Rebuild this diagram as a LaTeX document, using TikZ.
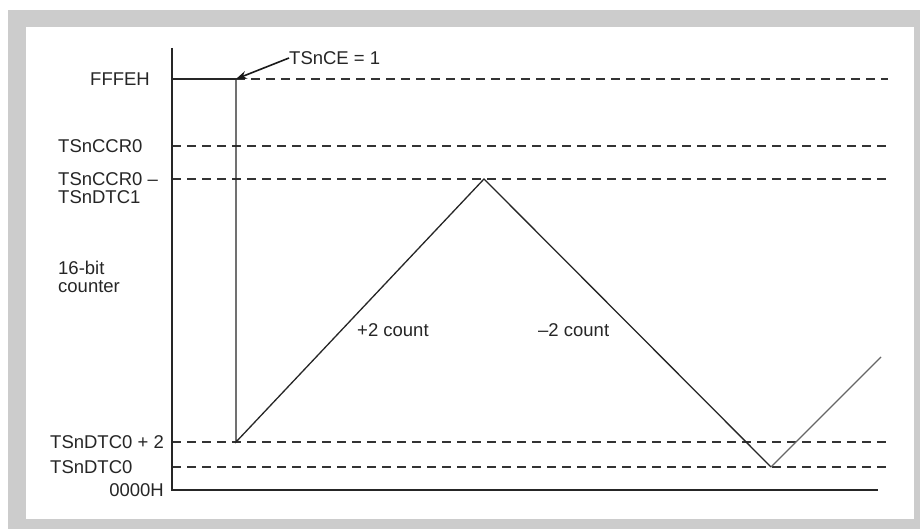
\documentclass[tikz,border=0pt]{standalone}
\usepackage{fontspec}
\setmainfont{Liberation Sans}
\usetikzlibrary{arrows.meta}
\begin{document}
\begin{tikzpicture}[x=1pt,y=-1pt,
  lbl/.style={inner sep=0pt,font=\fontsize{18.5}{20}\selectfont,text=black!85},
  axisline/.style={line width=1.5pt,black!85},
  guide/.style={line width=1.7pt,black!80,dash pattern=on 9pt off 6pt},
  wave/.style={line width=1.3pt,black!85},
  wavelight/.style={line width=1.3pt,black!60}]
\useasboundingbox (0,0) rectangle (920,529);
\fill[black!20] (8,10) rectangle (920,529);
\fill[white] (26,27) rectangle (914,519);
% levels
\coordinate (ytop) at (172,48);
\coordinate (orig) at (172,490);
\coordinate (xend) at (878,490);
% guide lines
\draw[guide] (236,79) -- (888,79);
\draw[guide] (172,146) -- (888,146);
\draw[guide] (172,179) -- (888,179);
\draw[guide] (172,442) -- (888,442);
\draw[guide] (172,467) -- (888,467);
% axes
\draw[axisline] (ytop) -- (orig) -- (xend);
% waveform
\coordinate (w0) at (172,79);
\coordinate (w1) at (236,79);
\coordinate (w2) at (236,442);
\coordinate (w3) at (484,179);
\coordinate (w4) at (771,467);
\coordinate (w5) at (881,357);
\draw[axisline] (w0) -- (w1);
\draw[wave] (w1) -- (w2) -- (w3) -- (w4);
\draw[wavelight] (w4) -- (w5);
% labels
\node[lbl,anchor=east] (lf) at (150,79) {FFFEH};
\node[lbl,anchor=west] (lc) at (58,146) {TSnCCR0};
\node[lbl,anchor=west] (lcd) at (58,179) {TSnCCR0 –};
\node[lbl,anchor=west] (lcd2) at (58,197) {TSnDTC1};
\node[lbl,anchor=west] (l16) at (58,268) {16-bit};
\node[lbl,anchor=west] (lcnt) at (58,287) {counter};
\node[lbl,anchor=west] (ld2) at (50,442) {TSnDTC0 + 2};
\node[lbl,anchor=west] (ld) at (50,467) {TSnDTC0};
\node[lbl,anchor=east] (lz) at (164,490) {0000H};
\node[lbl,anchor=west] (lp) at (357,330) {+2 count};
\node[lbl,anchor=west] (lm) at (538,330) {–2 count};
\node[lbl,anchor=west] (lce) at (289,58) {TSnCE = 1};
\draw[line width=1.6pt,black!90,-{Stealth[length=11pt,width=8pt]}] (lce.west) -- (w1);
\end{tikzpicture}
\end{document}
